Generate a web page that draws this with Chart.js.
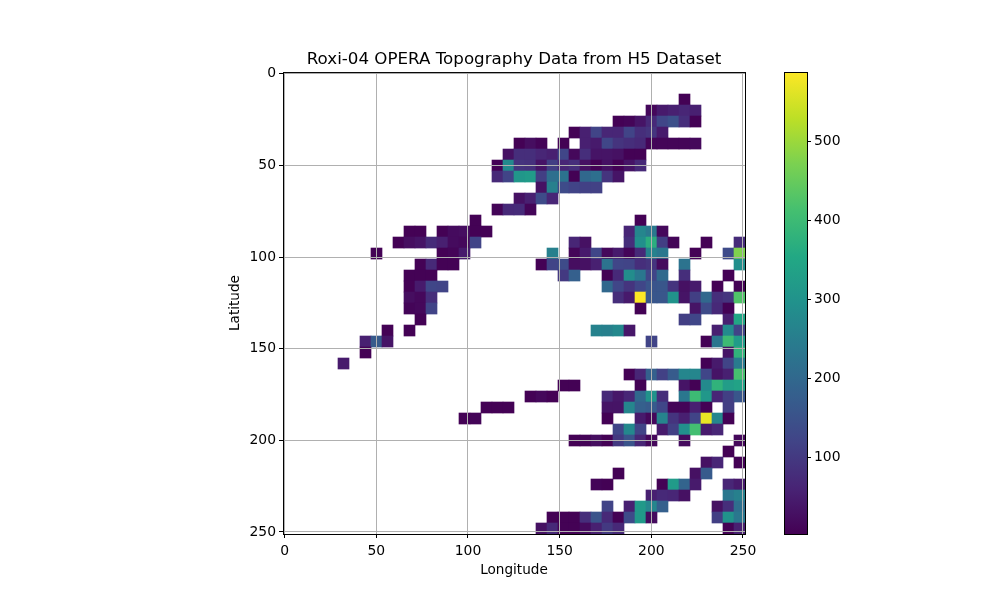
<!DOCTYPE html>
<html>
<head>
<meta charset="utf-8">
<title>Roxi-04 OPERA Topography</title>
<script src="https://cdn.jsdelivr.net/npm/chart.js@4/dist/chart.umd.min.js"></script>
<style>
    body { margin: 0; background: #fff; }
    canvas { position: absolute; top: 0; }
    #heatmap { left: 0; }
    #colorbar { left: 770px; }
</style>
</head>
<body>
<canvas id="heatmap" width="1000" height="600"></canvas>
<canvas id="colorbar" width="90" height="600"></canvas>
<script>
const axisTicks = [0, 50, 100, 150, 200, 250];
const colorbarTicks = [100, 200, 300, 400, 500];
const gridSize = 252;
const cellStep = 6;
const rasterOrigin = -0.9;
const minHeight = 3;
const maxHeight = 588;

// viridis, even steps from 0 to 1
const viridis = ['#440154', '#482475', '#414487', '#355f8d', '#2a788e', '#21918c', '#22a884', '#44bf70', '#7ad151', '#bddf26', '#fde725'];

// one line per raster row, each run is [first column, heights...]
const heightRows = [
    [],
    [],
    [[36, 5]],
    [[33, 15, 45, 55, 65, 55]],
    [[30, 5, 10, 35, 70, 125, 145, 80, 5]],
    [[26, 5, 55, 120, 65, 65, 120, 80, 90, 45]],
    [[21, 5, 25, 8], [25, 5], [27, 55, 45, 125, 90, 80, 70, 10, 10, 10, 10, 15]],
    [[20, 30, 80, 80, 65, 55, 125, 15, 80, 35, 35, 30, 5, 5]],
    [[19, 5, 280, 90, 85, 35, 110, 65, 80, 30, 5, 30, 5, 35, 70]],
    [[19, 70, 120, 310, 320, 110, 215, 225, 5, 200, 215, 90, 35]],
    [[23, 30, 255, 135, 120, 115, 115]],
    [[21, 30, 55, 135, 65]],
    [[19, 10, 70, 75, 10]],
    [[17, 5], [32, 5]],
    [[11, 5, 5], [14, 5, 20, 25, 5, 5], [31, 65, 270, 240, 15]],
    [[10, 5, 25, 35, 75, 55, 20, 15, 120], [26, 65, 30], [31, 80, 290, 370, 110, 10], [38, 5], [41, 75]],
    [[8, 5], [14, 5, 10, 45], [24, 255], [26, 10, 45, 125, 15, 45, 10, 70, 260, 235], [37, 5], [40, 135, 475]],
    [[12, 5, 70, 5, 5], [23, 5, 120, 135, 25, 30, 55, 225, 125, 120, 80, 90, 20], [36, 225], [41, 290]],
    [[11, 5, 5, 5], [25, 100, 180], [29, 5, 70, 285, 235, 125, 205], [36, 80], [40, 5]],
    [[11, 5, 45, 125, 120], [29, 200, 125, 90, 125, 155, 160, 90, 30, 45], [39, 5], [41, 5]],
    [[11, 25, 15, 80], [30, 80, 45, 587, 160, 160, 300, 35, 110, 200, 80, 90, 425]],
    [[11, 10, 15, 120], [32, 5], [37, 35, 135, 70, 5]],
    [[12, 5], [36, 110, 125], [40, 55, 350]],
    [[9, 5], [11, 5], [28, 260, 255, 275, 40], [39, 55, 280, 120]],
    [[7, 55, 170, 35], [33, 120], [38, 5, 230, 400, 320]],
    [[7, 5], [40, 35, 380]],
    [[5, 45], [38, 5, 45, 120, 245]],
    [[31, 5, 65, 180, 115, 170, 270, 270, 125, 35, 55, 415]],
    [[25, 5, 5], [32, 5], [36, 35, 5, 280, 380, 325, 340]],
    [[22, 5, 15, 5], [29, 70, 40, 65, 200, 300, 80], [36, 235, 400, 310, 65, 110, 160]],
    [[18, 5, 5, 5], [29, 35, 35, 270, 180, 170, 125, 10, 10, 55, 5], [40, 110]],
    [[16, 5, 10], [29, 5], [32, 45, 15, 265, 90, 55, 120, 570, 270, 5]],
    [[30, 125, 275, 120], [34, 45, 110, 290, 410, 45, 65]],
    [[26, 5, 8, 25, 5, 100, 155, 65, 15], [36, 20], [41, 15]],
    [[40, 5]],
    [[38, 30, 65], [41, 5]],
    [[30, 5], [37, 30, 170]],
    [[28, 10, 5], [34, 5, 320, 190, 45], [40, 65, 45]],
    [[33, 55, 70, 65, 30], [40, 235, 255]],
    [[29, 120], [31, 55, 315, 270, 180], [39, 30, 80, 215]],
    [[24, 5, 5, 5, 80, 155, 70, 5, 135, 315, 20], [39, 110, 300, 235]],
    [[23, 30, 70, 5, 5, 20, 55, 100, 70], [40, 5, 55]]
];

const fontFamily = '"DejaVu Sans", sans-serif';
const labelSize = 13.9;
const axisTitleSize = 13.6;

function viridisColor(value) {
    let t = (value - minHeight) / (maxHeight - minHeight);
    t = Math.min(1, Math.max(0, t)) * (viridis.length - 1);
    const i = Math.min(Math.floor(t), viridis.length - 2);
    const f = t - i;
    const c = [1, 3, 5].map(function(p) {
        const a = parseInt(viridis[i].substr(p, 2), 16);
        const b = parseInt(viridis[i + 1].substr(p, 2), 16);
        return Math.round(a + (b - a) * f);
    });
    return 'rgb(' + c.join(',') + ')';
}

// flatten the runs into floating bars, one bar per raster cell
let cells = [];
heightRows.forEach(function(runs, row) {
    runs.forEach(function(run) {
        run.slice(1).forEach(function(height, k) {
            const col = run[0] + k;
            cells.push({
                x: rasterOrigin + (col + 0.5) * cellStep,
                y: [rasterOrigin + row * cellStep, rasterOrigin + (row + 1) * cellStep],
                height: height
            });
        });
    });
});

// matplotlib style box round the axes
const framePlugin = {
    id: 'frame',
    afterDraw: function(chart) {
        const a = chart.chartArea;
        const ctx = chart.ctx;
        ctx.save();
        ctx.strokeStyle = '#000';
        ctx.lineWidth = 1;
        ctx.strokeRect(a.left + 0.5, a.top + 0.5, a.right - a.left, a.bottom - a.top);
        ctx.restore();
    }
};

function heatAxis(titleText, fixSize) {
    return {
        type: 'linear',
        min: rasterOrigin,
        max: rasterOrigin + gridSize,
        offset: false,
        afterBuildTicks: function(axis) {
            axis.ticks = axisTicks.map(function(v) { return { value: v }; });
        },
        afterFit: fixSize,
        grid: { offset: false, color: '#b0b0b0', lineWidth: 1, z: 1, tickColor: '#000', tickLength: 4 },
        border: { display: false },
        ticks: { color: '#000', padding: 4, maxRotation: 0, autoSkip: false, font: { family: fontFamily, size: labelSize } },
        title: { display: true, text: titleText, color: '#000', font: { family: fontFamily, size: axisTitleSize } }
    };
}

const xAxis = heatAxis('Longitude', function(scale) { scale.height = 66; });
xAxis.ticks.padding = 5;
xAxis.title.padding = { top: 0, bottom: 21 };
const yAxis = heatAxis('Latitude', function(scale) { scale.width = 283; });
yAxis.reverse = true;
yAxis.ticks.padding = 3;
yAxis.title.padding = { top: 227, bottom: 227 };

new Chart(document.getElementById('heatmap').getContext('2d'), {
    type: 'bar',
    plugins: [framePlugin],
    data: {
        datasets: [{
            data: cells,
            barThickness: 11,
            borderWidth: 0,
            borderSkipped: false,
            backgroundColor: function(ctx) {
                return ctx.raw ? viridisColor(ctx.raw.height) : '#000';
            }
        }]
    },
    options: {
        responsive: false,
        animation: false,
        layout: { padding: { right: 255 } },
        scales: { x: xAxis, y: yAxis },
        plugins: {
            legend: { display: false },
            tooltip: { enabled: false },
            title: {
                display: true,
                text: 'Roxi-04 OPERA Topography Data from H5 Dataset',
                color: '#000',
                fullSize: false,
                font: { family: fontFamily, size: 16.7, weight: 'normal' },
                padding: { top: 50, bottom: 2 }
            }
        }
    }
});

new Chart(document.getElementById('colorbar').getContext('2d'), {
    type: 'bar',
    plugins: [framePlugin],
    data: {
        labels: [''],
        datasets: [{
            data: [[minHeight, maxHeight]],
            categoryPercentage: 1,
            barPercentage: 1,
            borderWidth: 0,
            borderSkipped: false,
            backgroundColor: function(ctx) {
                const a = ctx.chart.chartArea;
                if (!a) return '#000';
                const g = ctx.chart.ctx.createLinearGradient(0, a.bottom, 0, a.top);
                viridis.forEach(function(c, i) { g.addColorStop(i / (viridis.length - 1), c); });
                return g;
            }
        }]
    },
    options: {
        responsive: false,
        animation: false,
        layout: { padding: { left: 14, top: 72, bottom: 66 } },
        scales: {
            x: { display: false },
            y: {
                position: 'right',
                min: minHeight,
                max: maxHeight,
                afterBuildTicks: function(axis) {
                    axis.ticks = colorbarTicks.map(function(v) { return { value: v }; });
                },
                afterFit: function(scale) { scale.width = 53; },
                grid: { drawOnChartArea: false, tickColor: '#000', tickLength: 4 },
                border: { display: false },
                ticks: { color: '#000', padding: 3, font: { family: fontFamily, size: labelSize } }
            }
        },
        plugins: { legend: { display: false }, tooltip: { enabled: false } }
    }
});
</script>
</body>
</html>
